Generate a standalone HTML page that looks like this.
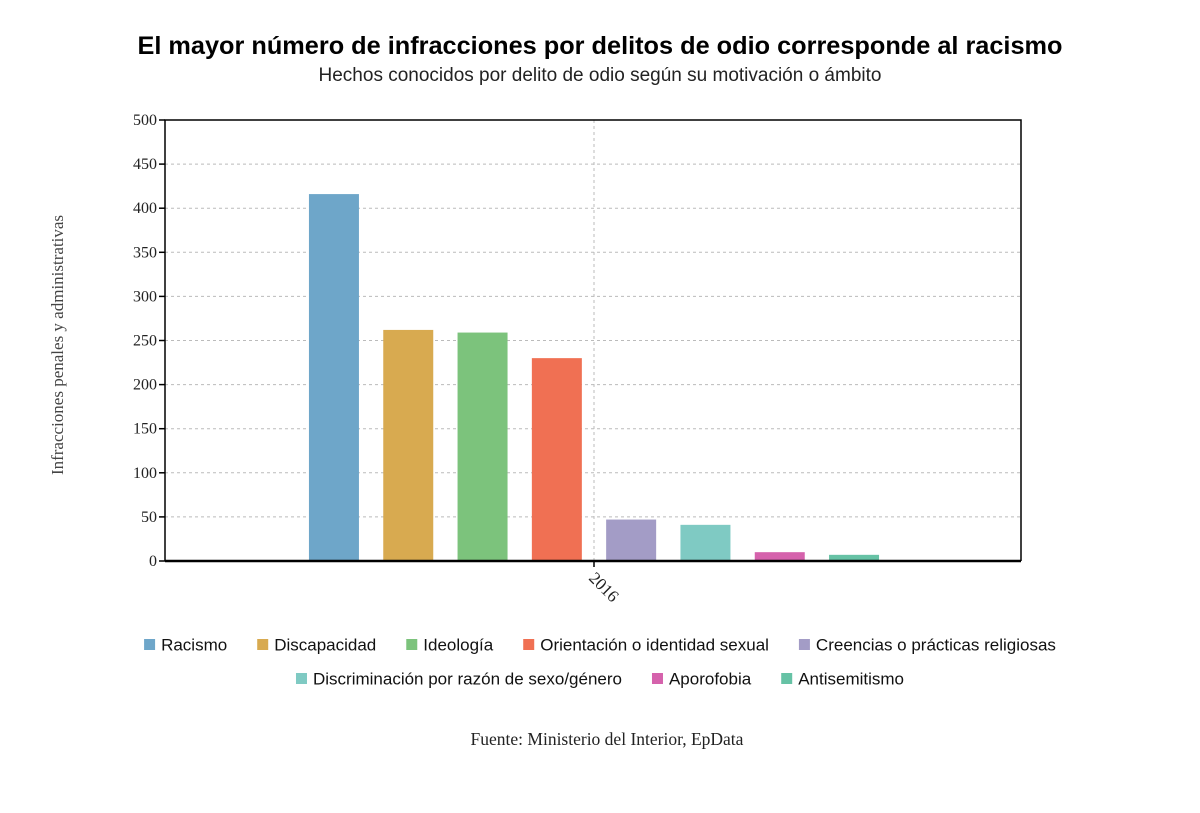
<!DOCTYPE html>
<html><head><meta charset="utf-8"><style>
body{margin:0;background:#fff;width:1200px;height:808px;overflow:hidden;font-family:"Liberation Sans",sans-serif}
</style></head><body>
<svg width="1200" height="808" xmlns="http://www.w3.org/2000/svg" id="chart">
<text x="600" y="54" text-anchor="middle" font-family="Liberation Sans" font-weight="bold" font-size="25.3" fill="#000">El mayor número de infracciones por delitos de odio corresponde al racismo</text>
<text x="600" y="81" text-anchor="middle" font-family="Liberation Sans" font-size="19" fill="#222">Hechos conocidos por delito de odio según su motivación o ámbito</text>
<text transform="translate(63,345) rotate(-90)" text-anchor="middle" font-family="Liberation Serif" font-size="17" fill="#444">Infracciones penales y administrativas</text>
<g id="grid"></g><g id="bars"></g><g id="axes"></g><g id="legend"></g>
<text x="607" y="745" text-anchor="middle" font-family="Liberation Serif" font-size="17.5" fill="#222">Fuente: Ministerio del Interior, EpData</text>
</svg>
<script>
const categories=["Racismo","Discapacidad","Ideología","Orientación o identidad sexual","Creencias o prácticas religiosas","Discriminación por razón de sexo/género","Aporofobia","Antisemitismo"];
const values=[416,262,259,230,47,41,10,7];
const colors=["#6ea6c9","#d8aa50","#7cc37c","#f07053","#a39cc6","#7fcac3","#d562ac","#66c2a5"];
const yTicks=[0,50,100,150,200,250,300,350,400,450,500];
const xLabel="2016";
const NS="http://www.w3.org/2000/svg";
const L=165,R=1021,T=120,B=561,yMax=500;
const y=v=>B-(v/yMax)*(B-T);
const cx=(L+R)/2+1,step=74.3,bw=50;
const x=i=>cx+(i-(categories.length-1)/2)*step;
function mk(tag,attrs,parent,text){const e=document.createElementNS(NS,tag);for(const k in attrs)e.setAttribute(k,attrs[k]);if(text!==undefined)e.textContent=text;document.getElementById(parent).appendChild(e);return e;}
yTicks.forEach(t=>{
 if(t>0&&t<yMax){const g=mk('line',{x1:L,x2:R,y1:y(t),y2:y(t),stroke:'#bbb','stroke-dasharray':'3,3'},'grid');
 
 }
 const tk=mk('line',{x1:L-6,x2:L,y1:y(t),y2:y(t),stroke:'#000','stroke-width':1.5},'axes');
 
 
 const tl=mk('text',{x:L-8,y:y(t)+5,'text-anchor':'end','font-family':'Liberation Serif','font-size':16,fill:'#222'},'axes',t);
 
 
});
const vg=mk('line',{x1:cx,x2:cx,y1:T,y2:B,stroke:'#bbb','stroke-dasharray':'3,3'},'grid');


values.forEach((v,i)=>{
 const r=mk('rect',{x:x(i)-bw/2,y:y(v),width:bw,height:B-y(v),fill:colors[i]},'bars');
 
 
});
const frame=mk('path',{d:`M${L},${B}V${T}H${R}V${B}`,fill:'none',stroke:'#000','stroke-width':1.5},'axes');


const xa=mk('line',{x1:L,x2:R,y1:B,y2:B,stroke:'#000','stroke-width':2.5},'axes');


const xt=mk('line',{x1:cx,x2:cx,y1:B,y2:B+6,stroke:'#000','stroke-width':1.5},'axes');


const xl=mk('text',{transform:`translate(${cx-6},${B+18}) rotate(45)`,'font-family':'Liberation Serif','font-size':17,fill:'#222'},'axes',xLabel);


// legend
const rows=[[0,1,2,3,4],[5,6,7]];
const ctx=document.createElement('canvas').getContext('2d');ctx.font='17px "Liberation Sans"';
rows.forEach((row,ri)=>{
 const widths=row.map(i=>17+ctx.measureText(categories[i]).width);
 const gap=30;const tot=widths.reduce((a,b)=>a+b,0)+gap*(row.length-1);
 let px=600-tot/2;const py=645+ri*34;
 row.forEach((i,k)=>{
  const sw=mk('rect',{x:px,y:py-6,width:11,height:11,fill:colors[i]},'legend');
  
  
  const t=mk('text',{x:px+17,y:py+5.5,'font-family':'Liberation Sans','font-size':17,fill:'#111'},'legend',categories[i]);
  
  
  px+=widths[k]+gap;
 });
});
</script>
</body></html>
